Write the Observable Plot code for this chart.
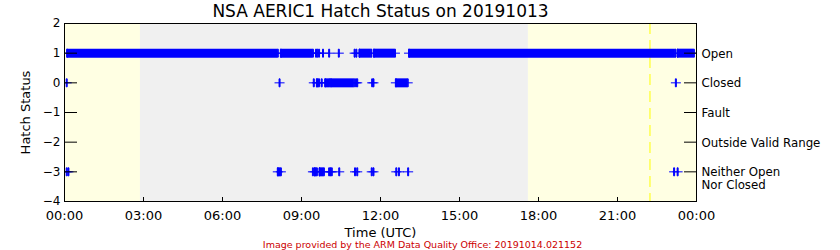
<!DOCTYPE html>
<html><head><meta charset="utf-8">
<script src="https://cdn.jsdelivr.net/npm/d3@7"></script>
<script src="https://cdn.jsdelivr.net/npm/@observablehq/plot@0.6"></script>
<style>
body{margin:0;background:#fff;}
svg text{font-family:"DejaVu Sans",sans-serif;}
</style>
</head><body><div id="chart"></div>
<script>
// ---- chart data ----
const title = "NSA AERIC1 Hatch Status on 20191013";
const footer = "Image provided by the ARM Data Quality Office: 20191014.021152";
const xLabel = "Time (UTC)";
const yLabel = "Hatch Status";

const xTickHours = [0, 3, 6, 9, 12, 15, 18, 21, 24];
const xTickLabels = ["00:00", "03:00", "06:00", "09:00", "12:00", "15:00", "18:00", "21:00", "00:00"];
const yTickValues = [2, 1, 0, -1, -2, -3, -4];
const yTickLabels = ["2", "1", "0", "\u22121", "\u22122", "\u22123", "\u22124"];

const statusValues = [1, 0, -1, -2, -3];
const statusLabels = ["Open", "Closed", "Fault", "Outside Valid Range", "Neither Open\nNor Closed"];

// background shading (daylight / darkness) and solar noon
const shadeStart = ["00:00", "02:53", "17:37"];
const shadeEnd   = ["02:53", "17:37", "24:00"];
const shadeKind  = ["day", "night", "day"];
const solarNoon  = ["22:14"];

// status = 1 (Open)
const openRuns = [["00:06", "08:06"], ["08:13", "09:26"], ["11:12", "11:39"], ["11:45", "12:33"], ["13:05", "23:12"], ["23:17", "23:54"]];
const openPoints = ["09:33", "09:36", "09:40", "09:49", "10:03", "10:25", "11:01", "11:05"];

// status = 0 (Closed)
const closedRuns = [["09:35", "09:40"], ["09:54", "10:04"], ["10:07", "11:00"], ["12:35", "13:02"]];
const closedPoints = ["00:05", "08:10", "09:28", "09:46", "11:04", "11:07", "11:41", "11:44", "23:13"];

// status = -3 (Neither Open Nor Closed)
const neitherRuns = [["08:06", "08:13"], ["09:30", "09:35"], ["09:41", "09:51"]];
const neitherPoints = ["00:05", "00:09", "09:26", "10:03", "10:06", "10:09", "10:26", "11:02", "11:07", "11:40", "11:44", "12:36", "12:42", "13:03", "23:09", "23:17"];

// ---- build tables ----
const toH = s => { const [h, m] = s.split(":").map(Number); return h + m / 60; };
const shades = shadeStart.map((s, i) => ({x1: toH(s), x2: toH(shadeEnd[i]), kind: shadeKind[i]}));
const runs = [
  ...openRuns.map(r => ({s: 1, t1: toH(r[0]), t2: toH(r[1])})),
  ...closedRuns.map(r => ({s: 0, t1: toH(r[0]), t2: toH(r[1])})),
  ...neitherRuns.map(r => ({s: -3, t1: toH(r[0]), t2: toH(r[1])}))
];
const points = [
  ...openPoints.map(t => ({s: 1, t: toH(t)})),
  ...closedPoints.map(t => ({s: 0, t: toH(t)})),
  ...neitherPoints.map(t => ({s: -3, t: toH(t)})),
  ...runs.flatMap(r => [{s: r.s, t: r.t1}, {s: r.s, t: r.t2}])
];
const labelRows = statusValues.map((v, i) => ({v, label: statusLabels[i]}));

const plusSymbol = {
  draw(ctx) {
    ctx.moveTo(-5, 0); ctx.lineTo(5, 0);
    ctx.moveTo(-0.5, -4); ctx.lineTo(0.5, -4); ctx.lineTo(0.5, 4); ctx.lineTo(-0.5, 4); ctx.closePath();
  }
};

const blue = "#0000ff";

const chart = Plot.plot({
  width: 840, height: 250,
  marginLeft: 64, marginRight: 144, marginTop: 23, marginBottom: 49,
  style: {fontFamily: "DejaVu Sans, sans-serif", fontSize: "12px", background: "white", overflow: "visible", color: "black"},
  x: {domain: [0, 24]},
  y: {domain: [-4, 2]},
  marks: [
    Plot.rect(shades, {x1: "x1", x2: "x2", fill: d => d.kind === "day" ? "#ffffe3" : "#f0f0f0"}),
    Plot.ruleX(solarNoon.map(toH), {x: d => d, stroke: "#ffff00", strokeDasharray: "11,6"}),
    Plot.ruleY(runs, {y: "s", x1: "t1", x2: "t2", stroke: blue, strokeWidth: 9, clip: true}),
    Plot.dot(points, {x: "t", y: "s", symbol: plusSymbol, r: 5, fill: blue, stroke: blue, strokeWidth: 1, clip: true}),
    Plot.frame({stroke: "black"}),
    Plot.axisY({anchor: "left", ticks: yTickValues, tickSize: 13, dx: 13, tickPadding: 4,
      tickFormat: d => yTickLabels[yTickValues.indexOf(d)], fontSize: 12, label: null}),
    Plot.axisY({anchor: "right", ticks: statusValues, tickSize: 13, dx: -13, tickPadding: 0,
      tickFormat: () => "", label: null}),
    Plot.axisX({anchor: "bottom", ticks: xTickHours, tickSize: 4, dy: -4, tickPadding: 9,
      tickFormat: d => xTickLabels[xTickHours.indexOf(d)], fontSize: 13, label: null}),
    Plot.text(labelRows, {y: "v", frameAnchor: "right", text: "label", textAnchor: "start",
      lineAnchor: "top", dy: -4.1, lineHeight: 1.04, dx: 5, fontSize: 11.8}),
    Plot.text([title], {frameAnchor: "top", lineAnchor: "middle", textAnchor: "middle", dy: -12, fontSize: 17, text: d => d}),
    Plot.text([yLabel], {frameAnchor: "left", lineAnchor: "middle", textAnchor: "middle", dx: -39, rotate: -90, fontSize: 13, text: d => d}),
    Plot.text([xLabel], {frameAnchor: "bottom", lineAnchor: "middle", textAnchor: "middle", dy: 31, fontSize: 13, text: d => d}),
    Plot.text([footer], {frameAnchor: "bottom", lineAnchor: "middle", textAnchor: "middle", dy: 43.5, dx: 42, fontSize: 9.5, fill: "#cc0000", text: d => d})
  ]
});
document.getElementById("chart").appendChild(chart);
</script>
</body></html>
